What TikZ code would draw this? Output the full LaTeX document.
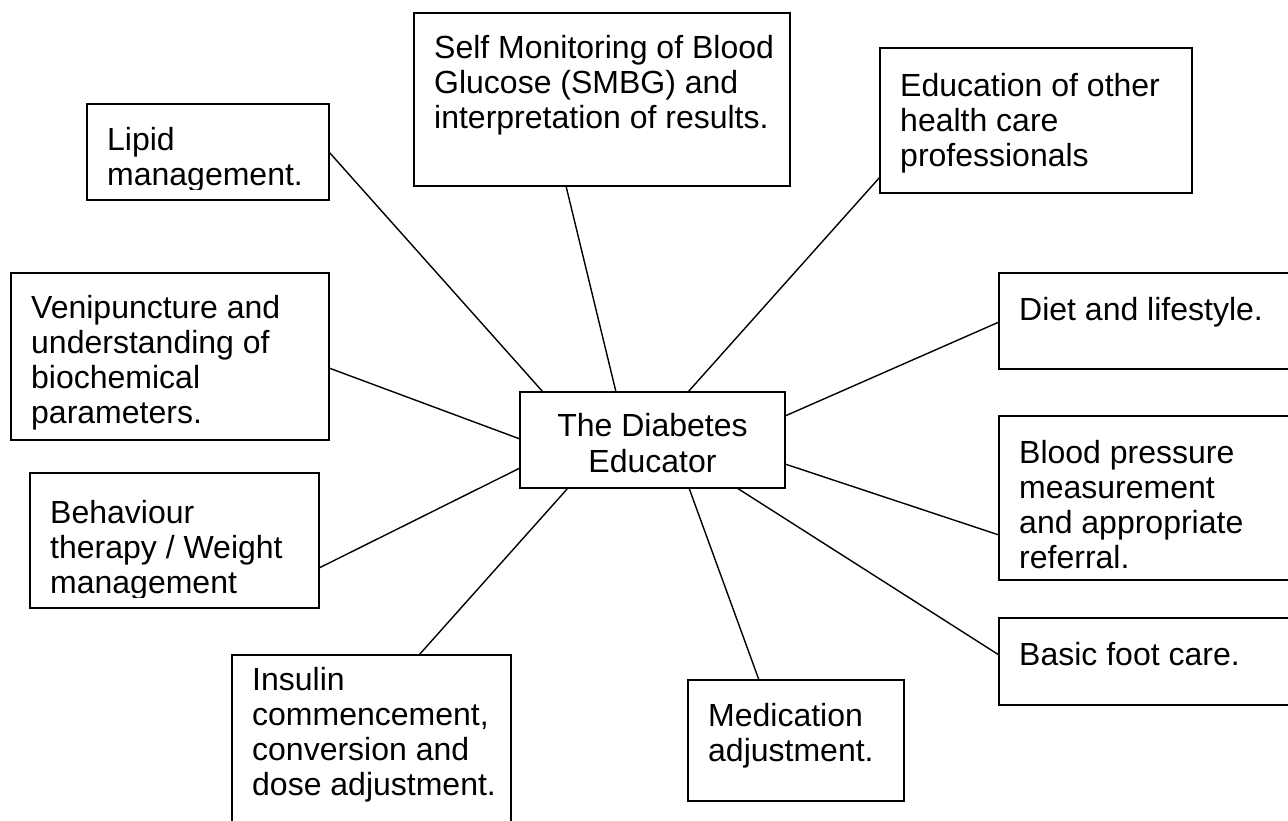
\documentclass[tikz,border=0pt]{standalone}
\usepackage{fontspec}
\setmainfont{Liberation Sans}
\usepackage{tikz}
\usetikzlibrary{positioning}

% one topic box: name, left, top, right, bottom, text drop, text
\newcommand\topic[7]{%
  \node[ebox, minimum width={#4-#2}, minimum height={#5-#3}, anchor=north west] (#1) at (#2,-#3) {};
  \begin{scope}
    \clip (#1.north west) rectangle ([yshift=11]#1.south east);
    \node[etext] (#1-txt) at ([xshift=20, yshift=-#6]#1.north west) {#7};
  \end{scope}}

\begin{document}
\begin{tikzpicture}
        [x=1pt,y=1pt,
         ebox/.style={draw,line width=1.8pt,inner sep=0pt,outer sep=0pt},
         etext/.style={anchor=north west,inner sep=0pt,align=left,font=\fontsize{32}{35}\selectfont},
         connector/.style={line width=1.4pt}]
        \path[use as bounding box] (0,0) rectangle (1288,-820);
        \clip (0,0) rectangle (1288,-820);

        \node[ebox, align=center, minimum width=265, minimum height=96,
              font=\fontsize{32}{36}\selectfont] (center) at (652.5,-440) {\rule{0pt}{29pt}The Diabetes\\Educator};

        \topic{lipid}{87}{104}{329}{200}{23}{Lipid\\management.}
        \topic{smbg}{414}{13}{790}{186}{22}{Self Monitoring of Blood\\Glucose (SMBG) and\\interpretation of results.}
        \topic{edu}{880}{48}{1192}{193}{25}{Education of other\\health care\\professionals}
        \topic{veni}{11}{273}{329}{440}{22}{Venipuncture and\\understanding of\\biochemical\\parameters.}
        \topic{behav}{30}{473}{319}{608}{27}{Behaviour\\therapy / Weight\\management}
        \topic{diet}{999}{273}{1300}{369}{24}{Diet and lifestyle.}
        \topic{bp}{999}{416}{1300}{580}{24}{Blood pressure\\measurement\\and appropriate\\referral.}
        \topic{foot}{999}{618}{1300}{705}{24}{Basic foot care.}
        \topic{insulin}{232}{655}{511}{840}{12}{Insulin\\commencement,\\conversion and\\dose adjustment.}
        \topic{med}{688}{680}{904}{801}{23}{Medication\\adjustment.}

        \draw[connector] ([yshift=-48]lipid.north east) -- ([xshift=23]center.north west);
        \draw[connector] ([xshift=152]smbg.south west) -- ([xshift=96]center.north west);
        \draw[connector] ([yshift=16]edu.south west) -- ([xshift=168]center.north west);
        \draw[connector] ([yshift=-49]diet.north west) -- ([yshift=-24]center.north east);
        \draw[connector] ([yshift=-119]bp.north west) -- ([yshift=24]center.south east);
        \draw[connector] ([yshift=-37]foot.north west) -- ([xshift=-48]center.south east);
        \draw[connector] ([xshift=71]med.north west) -- ([xshift=169]center.south west);
        \draw[connector] ([xshift=187]insulin.north west) -- ([xshift=48]center.south west);
        \draw[connector] ([yshift=40]behav.south east) -- ([yshift=20]center.south west);
        \draw[connector] ([yshift=-95]veni.north east) -- ([yshift=-47]center.north west);

      \end{tikzpicture}
\end{document}
